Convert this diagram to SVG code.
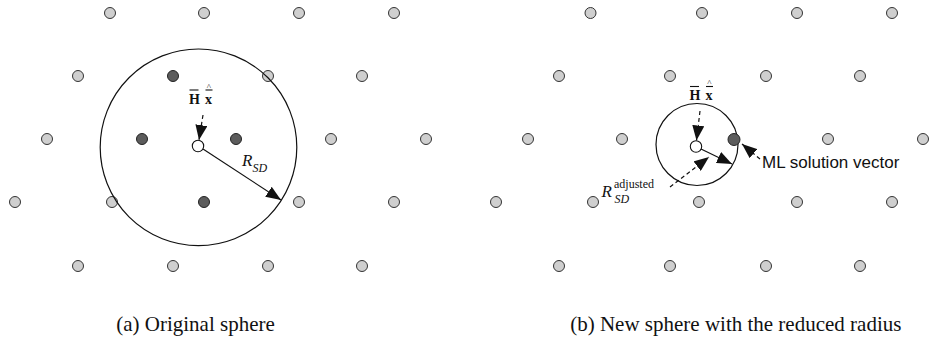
<svg xmlns="http://www.w3.org/2000/svg" width="929" height="339" viewBox="0 0 929 339">
<style>
.pt{fill:#cfcfcf;stroke:#333;stroke-width:1}
.dk{fill:#5c5c5c;stroke:#222;stroke-width:1}
.wt{fill:#fff;stroke:#111;stroke-width:1.1}
.sph{fill:none;stroke:#111;stroke-width:1.2}
.ar{fill:none;stroke:#111;stroke-width:1.2}
.dash{stroke-dasharray:4 3}
.serif{font-family:"Liberation Serif","Times New Roman",serif;fill:#111}
.bold{font-weight:bold}
.it{font-style:italic}
.sans{font-family:"Liberation Sans",Arial,sans-serif;fill:#111}
.bar{stroke:#111;stroke-width:1.1}
</style>
<defs>
<marker id="ah" markerUnits="userSpaceOnUse" viewBox="0 0 15 12" refX="15" refY="6" markerWidth="15" markerHeight="12" orient="auto">
<path d="M0,0 L15,6 L0,12 z" fill="#111" stroke="none"/>
</marker>
</defs>

<g id="panel-a-lattice">
<circle class="pt" cx="110" cy="13" r="5.5"/>
<circle class="pt" cx="204" cy="13" r="5.5"/>
<circle class="pt" cx="299" cy="13" r="5.5"/>
<circle class="pt" cx="394" cy="13" r="5.5"/>
<circle class="pt" cx="78" cy="76" r="5.5"/>
<circle class="dk" cx="173" cy="76" r="5.5"/>
<circle class="pt" cx="268" cy="76" r="5.5"/>
<circle class="pt" cx="362" cy="76" r="5.5"/>
<circle class="pt" cx="47" cy="139" r="5.5"/>
<circle class="dk" cx="142" cy="139" r="5.5"/>
<circle class="dk" cx="236" cy="139" r="5.5"/>
<circle class="pt" cx="331" cy="139" r="5.5"/>
<circle class="pt" cx="426" cy="139" r="5.5"/>
<circle class="pt" cx="15" cy="202" r="5.5"/>
<circle class="pt" cx="112" cy="202" r="5.5"/>
<circle class="dk" cx="204" cy="202" r="5.5"/>
<circle class="pt" cx="299" cy="202" r="5.5"/>
<circle class="pt" cx="394" cy="202" r="5.5"/>
<circle class="pt" cx="78" cy="266" r="5.5"/>
<circle class="pt" cx="173" cy="266" r="5.5"/>
<circle class="pt" cx="268" cy="266" r="5.5"/>
<circle class="pt" cx="362" cy="266" r="5.5"/>
</g>
<g id="panel-a-sphere">
<circle class="sph" cx="198.5" cy="147.3" r="98.3"/>
<circle class="wt" cx="198" cy="146" r="5.7"/>
</g>

<g id="panel-b-lattice">
<circle class="pt" cx="590.5" cy="13" r="5.5"/>
<circle class="pt" cx="702" cy="13" r="5.5"/>
<circle class="pt" cx="797" cy="13" r="5.5"/>
<circle class="pt" cx="892" cy="13" r="5.5"/>
<circle class="pt" cx="559" cy="76" r="5.5"/>
<circle class="pt" cx="670" cy="76" r="5.5"/>
<circle class="pt" cx="766" cy="76" r="5.5"/>
<circle class="pt" cx="860" cy="76" r="5.5"/>
<circle class="pt" cx="528" cy="139" r="5.5"/>
<circle class="pt" cx="622" cy="139" r="5.5"/>
<circle class="pt" cx="828" cy="139" r="5.5"/>
<circle class="pt" cx="923" cy="139" r="5.5"/>
<circle class="pt" cx="496" cy="202" r="5.5"/>
<circle class="pt" cx="593" cy="202" r="5.5"/>
<circle class="pt" cx="699" cy="202" r="5.5"/>
<circle class="pt" cx="797" cy="202" r="5.5"/>
<circle class="pt" cx="892" cy="202" r="5.5"/>
<circle class="pt" cx="559" cy="266" r="5.5"/>
<circle class="pt" cx="670" cy="266" r="5.5"/>
<circle class="pt" cx="766" cy="266" r="5.5"/>
<circle class="pt" cx="860" cy="266" r="5.5"/>
</g>
<g id="panel-b-sphere">
<circle class="sph" cx="697" cy="144.5" r="41"/>
<circle class="dk" cx="734" cy="139.5" r="6"/>
<circle class="wt" cx="696" cy="146.5" r="5.7"/>
</g>

<g id="connectors">
<line class="ar dash" x1="203" y1="115" x2="199" y2="140" marker-end="url(#ah)"/>
<line class="ar" x1="203" y1="149" x2="281" y2="200" marker-end="url(#ah)"/>
<line class="ar dash" x1="700" y1="111" x2="696.5" y2="140.5" marker-end="url(#ah)"/>
<line class="ar" x1="701" y1="149" x2="732" y2="164" marker-end="url(#ah)"/>
<line class="ar dash" x1="670" y1="187" x2="709" y2="157" marker-end="url(#ah)"/>
<line class="ar dash" x1="760" y1="159" x2="742" y2="144" marker-end="url(#ah)"/>
</g>

<g id="label-a-hx">
<line class="bar" x1="189.5" y1="90" x2="198.5" y2="90"/>
<line class="bar" x1="205.5" y1="90" x2="212.5" y2="90"/>
<text class="serif bold" x="189" y="104" font-size="14">H<tspan x="205">x</tspan></text>
<text class="serif" x="206.8" y="89.5" font-size="9">^</text>
</g>
<g id="label-a-rsd">
<text class="serif it" x="242" y="166" font-size="17">R<tspan font-size="12" dy="5.5">SD</tspan></text>
</g>

<g id="label-b-hx">
<line class="bar" x1="690" y1="86.5" x2="699" y2="86.5"/>
<line class="bar" x1="706" y1="86.5" x2="713" y2="86.5"/>
<text class="serif bold" x="689.5" y="100" font-size="14">H<tspan x="705.5">x</tspan></text>
<text class="serif" x="707.3" y="85.5" font-size="9">^</text>
</g>
<g id="label-b-rsd">
<text class="serif it" x="601.5" y="196.5" font-size="17">R<tspan x="614" y="187.5" font-size="12" font-style="normal">adjusted</tspan><tspan x="614.5" y="202.5" font-size="12">SD</tspan></text>
</g>
<g id="label-ml">
<text class="sans" x="762" y="168" font-size="17">ML solution vector</text>
</g>

<g id="captions">
<text class="serif" x="195.5" y="331" font-size="21" text-anchor="middle">(a) Original sphere</text>
<text class="serif" x="735.8" y="331" font-size="21" text-anchor="middle">(b) New sphere with the reduced radius</text>
</g>
</svg>
